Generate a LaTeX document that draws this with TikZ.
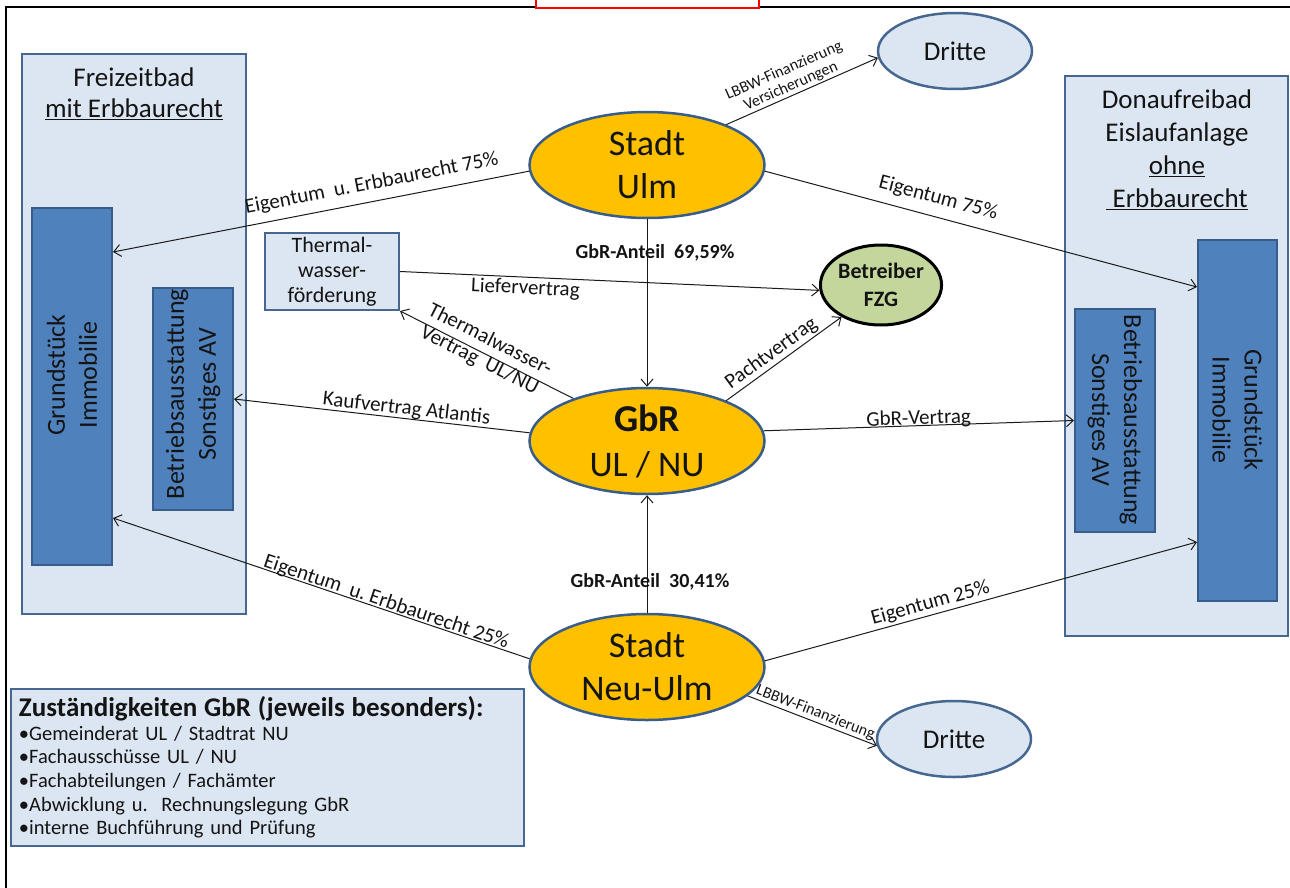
\documentclass[tikz,border=0pt]{standalone}
\usepackage{fontspec}
\setmainfont{Carlito}
\usetikzlibrary{shapes.geometric,arrows.meta,calc}
\definecolor{lightc}{HTML}{DCE6F2}
\definecolor{bordc}{HTML}{46678F}
\definecolor{darkc}{HTML}{4F81BD}
\definecolor{darkbord}{HTML}{385D8A}
\definecolor{orangec}{HTML}{FFC000}
\definecolor{greenc}{HTML}{C3D69B}
\definecolor{linec}{HTML}{1A1A1A}
\definecolor{txtc}{HTML}{141414}
\begin{document}
\begin{tikzpicture}[x=1pt,y=-1pt,
  lightbox/.style={draw=bordc, fill=lightc, line width=2pt, inner sep=0pt},
  darkbox/.style={draw=darkbord, fill=darkc, line width=2pt, inner sep=0pt},
  city/.style={ellipse, draw=darkbord, fill=orangec, line width=2.5pt, minimum width=235, minimum height=106, inner sep=0pt, align=center, text=txtc, font=\fontsize{36}{43}\selectfont},
  dritte/.style={ellipse, draw=bordc, fill=lightc, line width=2.5pt, minimum width=154, minimum height=76, inner sep=0pt, font=\fontsize{27}{30}\selectfont, text=txtc},
  conn/.style={draw=linec, line width=1pt, -{Straight Barb[length=7pt,width=12pt]}},
  lbl/.style={font=\fontsize{21}{23}\selectfont, text=txtc, inner sep=2pt, align=center},
  lblsmall/.style={font=\fontsize{16}{17}\selectfont, text=txtc, inner sep=1.5pt, align=center},
  lblbold/.style={font=\bfseries\fontsize{20}{22}\selectfont, text=txtc, inner sep=1pt},
  boxtxt/.style={font=\fontsize{26}{32}\selectfont, text=txtc, align=center, inner sep=0pt},
]
\useasboundingbox (0,0) rectangle (1290,888);

% frame
\draw[line width=2.5pt, black] (6,888) -- (6,7) -- (1290,7);
\draw[red, line width=1.5pt, fill=white] (536,-3) rectangle (759,8);

% left group
\node[lightbox, minimum width=224, minimum height=560] (lout) at (134,334) {};
\node[boxtxt, anchor=north, font=\fontsize{27}{31}\selectfont] (ltitle) at (134,68) {Freizeitbad\\\underline{mit Erbbaurecht}};
\node[darkbox, minimum width=80, minimum height=357] (lgrund) at (72,386.5) {};
\node[darkbox, minimum width=80, minimum height=222] (lbetr) at (193,399) {};
\node[boxtxt, rotate=90] (lgrundtxt) at (72,375) {Grundstück\\Immobilie};
\node[boxtxt, rotate=90] (lbetrtxt) at (193,394) {Betriebsausstattung\\Sonstiges AV};

% right group
\node[lightbox, minimum width=223, minimum height=560] (rout) at (1176.5,356) {};
\node[boxtxt, anchor=north, font=\fontsize{27}{33}\selectfont] (rtitle) at (1177,90) {Donaufreibad\\Eislaufanlage\\\underline{ohne}\\\underline{\ Erbbaurecht}};
\node[darkbox, minimum width=79, minimum height=361] (rgrund) at (1237.5,420.5) {};
\node[darkbox, minimum width=80, minimum height=223] (rbetr) at (1115,420.5) {};
\node[boxtxt, rotate=-90] (rgrundtxt) at (1237.5,410) {Grundstück\\Immobilie};
\node[boxtxt, rotate=-90] (rbetrtxt) at (1115,420) {Betriebsausstattung\\Sonstiges AV};

% thermal
\node[lightbox, minimum width=134, minimum height=77, font=\fontsize{22}{25}\selectfont, align=center, text=txtc] (therm) at (332,271.5) {Thermal-\\wasser-\\förderung};

% ellipses
\node[city] (ulm) at (647,165) {Stadt\\Ulm};
\node[city, font=\fontsize{36}{45}\selectfont] (gbr) at (647,441) {{\bfseries\fontsize{38}{45}\selectfont GbR}\\UL / NU};
\node[city] (nulm) at (647,667) {Stadt\\Neu-Ulm};
\node[ellipse, draw=black, fill=greenc, line width=3pt, minimum width=119, minimum height=80, inner sep=0pt, align=center, text=txtc, font=\bfseries\fontsize{22}{28}\selectfont] (betr) at (881,285) {Betreiber\\FZG};
\node[dritte] (dr1) at (955,51) {Dritte};
\node[dritte] (dr2) at (954,739) {Dritte};

% Zustaendigkeiten
\node[lightbox, anchor=north west, minimum width=513, minimum height=157, text width=497, inner xsep=8pt, align=left, text=txtc, font=\fontsize{20.5}{23.6}\selectfont] (zust) at (10,688) {{\bfseries\fontsize{27}{28}\selectfont Zuständigkeiten GbR (jeweils besonders):}\\•Gemeinderat UL / Stadtrat NU\\•Fachausschüsse UL / NU\\•Fachabteilungen / Fachämter\\•Abwicklung u.\ \ Rechnungslegung GbR\\•interne Buchführung und Prüfung\\[-8pt]};

% connectors
\draw[conn] (ulm.183) -- node[lbl, sloped, above=6pt, pos=0.37] (l1) {Eigentum\ \ u.\ Erbbaurecht 75\%} ([yshift=134.5]lgrund.east);
\draw[conn] (ulm.-3) -- node[lbl, sloped, above=7pt, pos=0.39] (l2) {Eigentum 75\%} ([yshift=133.5]rgrund.west);
\draw[conn] (ulm.27) -- node[lblsmall, sloped, above, pos=0.45] (l3) {LBBW-Finanzierung\\Versicherungen} (dr1.185);
\draw[conn] (ulm.south) -- node[lblbold, pos=0.2, xshift=8pt] (l4) {GbR-Anteil\ \ 69,59\%} (gbr.north);
\draw[conn] (therm.east) -- node[lbl, sloped, below, pos=0.3] (l5) {Liefervertrag} (betr.185);
\draw[conn] (gbr.150) -- node[lbl, sloped, pos=0.52, yshift=3pt] (l6) {Thermalwasser-\\Vertrag\ \ UL/NU} (therm.south east);
\draw[conn] (gbr.27) -- node[lbl, sloped, above, pos=0.45] (l7) {Pachtvertrag} (betr.219);
\draw[conn] (gbr.176) -- node[lbl, sloped, above=-2pt, pos=0.42] (l8) {Kaufvertrag Atlantis} (lbetr.east);
\draw[conn] (gbr.5) -- node[lbl, sloped, above=-5pt, pos=0.5] (l9) {GbR-Vertrag} (rbetr.west);
\draw[conn] (nulm.north) -- node[lblbold, pos=0.26, xshift=3pt] (l10) {GbR-Anteil\ \ 30,41\%} (gbr.south);
\draw[conn] (nulm.176) -- node[lbl, sloped, above=-4pt, pos=0.35] (l11) {Eigentum\ \ u.\ Erbbaurecht 25\%} ([yshift=-131.5]lgrund.east);
\draw[conn] (nulm.3) -- node[lbl, sloped, above, pos=0.39] (l12) {Eigentum 25\%} ([yshift=-121.5]rgrund.west);
\draw[conn] (nulm.-16) -- node[lblsmall, sloped, above, pos=0.5] (l13) {LBBW-Finanzierung} (dr2.185);
\end{tikzpicture}
\end{document}
